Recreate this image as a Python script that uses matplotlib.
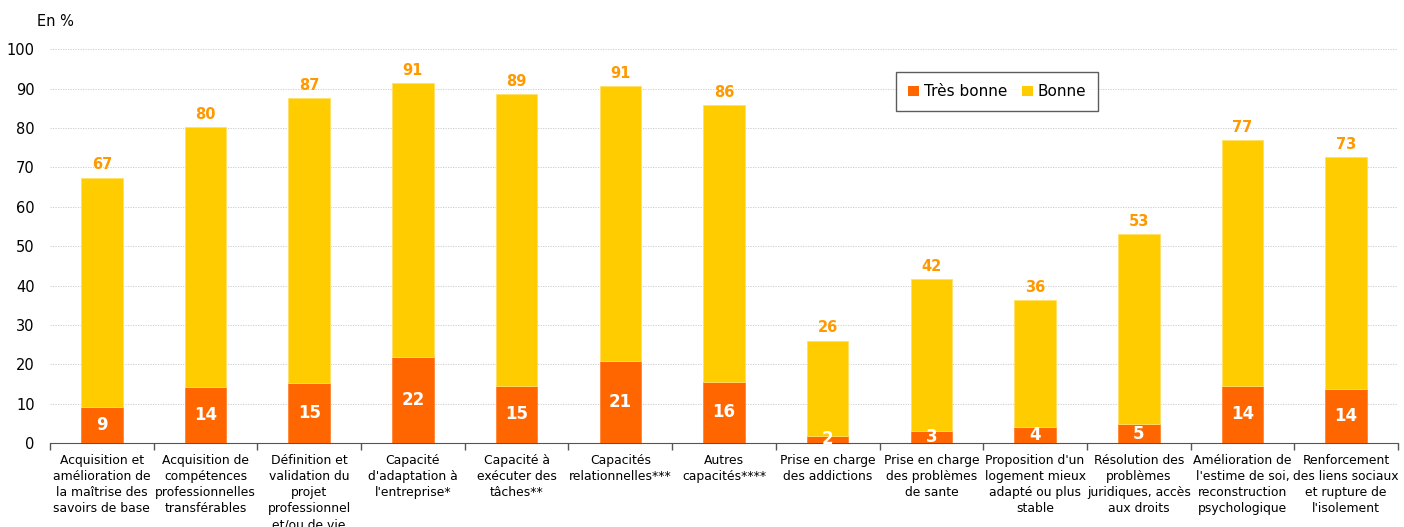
import matplotlib

matplotlib.use("Agg")
import matplotlib.pyplot as plt
import numpy as np
from matplotlib.patches import Patch

categories = [
    "Acquisition et\namélioration de\nla maîtrise des\nsavoirs de base",
    "Acquisition de\ncompétences\nprofessionnelles\ntransférables",
    "Définition et\nvalidation du\nprojet\nprofessionnel\net/ou de vie",
    "Capacité\nd'adaptation à\nl'entreprise*",
    "Capacité à\nexécuter des\ntâches**",
    "Capacités\nrelationnelles***",
    "Autres\ncapacités****",
    "Prise en charge\ndes addictions",
    "Prise en charge\ndes problèmes\nde sante",
    "Proposition d'un\nlogement mieux\nadapté ou plus\nstable",
    "Résolution des\nproblèmes\njuridiques, accès\naux droits",
    "Amélioration de\nl'estime de soi,\nreconstruction\npsychologique",
    "Renforcement\ndes liens sociaux\net rupture de\nl'isolement",
]
tres_bonne = [9.1, 14.2, 15.2, 21.8, 14.5, 20.8, 15.5, 1.8, 3.0, 4.1, 4.8, 14.5, 13.7]
bonne = [58.3, 66.0, 72.4, 69.6, 74.1, 69.8, 70.3, 24.1, 38.6, 32.2, 48.2, 62.4, 58.9]
tres_bonne_labels = [9, 14, 15, 22, 15, 21, 16, 2, 3, 4, 5, 14, 14]
total_labels = [67, 80, 87, 91, 89, 91, 86, 26, 42, 36, 53, 77, 73]

ORANGE = "#FF6600"
YELLOW = "#FFCC00"
LABEL = "#FF9900"

plt.rcParams["font.family"] = ["DejaVu Sans"]

fig = plt.figure(figsize=(14.04, 5.27), dpi=100)
ax = fig.add_axes([50 / 1404, 1 - 443 / 527, 1348 / 1404, (443 - 49.3) / 527])

x = np.arange(len(categories))
tb = np.array(tres_bonne)
bo = np.array(bonne)
ax.bar(x, tb, width=0.4, color=ORANGE, edgecolor="#FF8533", linewidth=0.6, zorder=3)
ax.bar(x, bo, bottom=tb, width=0.4, color=YELLOW, edgecolor="#FFE066", linewidth=0.6, zorder=3)

for xi, v, lab in zip(x, tb, tres_bonne_labels):
    ax.text(xi, v / 2, str(lab), ha="center", va="center", color="white",
            fontsize=12, fontweight="bold", zorder=5, clip_on=False)
for xi, v, lab in zip(x, tb + bo, total_labels):
    ax.annotate(str(lab), (xi, v), xytext=(0, 4), textcoords="offset points",
                ha="center", va="bottom", color=LABEL, fontsize=10.5, fontweight="bold")

ax.set_xlim(-0.5, len(categories) - 0.5)
ax.set_ylim(0, 100)
ax.set_yticks(range(0, 101, 10))
ax.tick_params(axis="y", length=0, pad=11, labelsize=10.5)
ax.yaxis.grid(True, color="#C8C8C8", linestyle=(0, (1.5, 1.5)), linewidth=0.6, zorder=0)

ax.set_xticks(x)
ax.set_xticklabels(categories, fontsize=8.9, linespacing=1.3)
ax.tick_params(axis="x", length=0, pad=8)
ax.set_xticks(np.arange(-0.5, len(categories) + 0.5, 1), minor=True)
ax.tick_params(axis="x", which="minor", length=5, color="#555555", width=1)

for s in ["top", "right", "left"]:
    ax.spines[s].set_visible(False)
ax.spines["bottom"].set_color("#555555")

fig.text(37 / 1404, 1 - 22 / 527, "En %", fontsize=10.5, va="center", ha="left")

handles = [Patch(facecolor=ORANGE, label="Très bonne"), Patch(facecolor=YELLOW, label="Bonne")]
leg = ax.legend(handles=handles, ncol=2, loc="upper left",
                bbox_to_anchor=((896 - 50) / 1348, (443 - 72) / (443 - 49.3)),
                fontsize=11, frameon=True, fancybox=False, handlelength=0.7,
                handleheight=0.7, handletextpad=0.3, columnspacing=1.0,
                borderpad=0.8, borderaxespad=0)
leg.get_frame().set_edgecolor("#333333")
leg.get_frame().set_linewidth(1.0)

fig.savefig("out.png", dpi=100)
